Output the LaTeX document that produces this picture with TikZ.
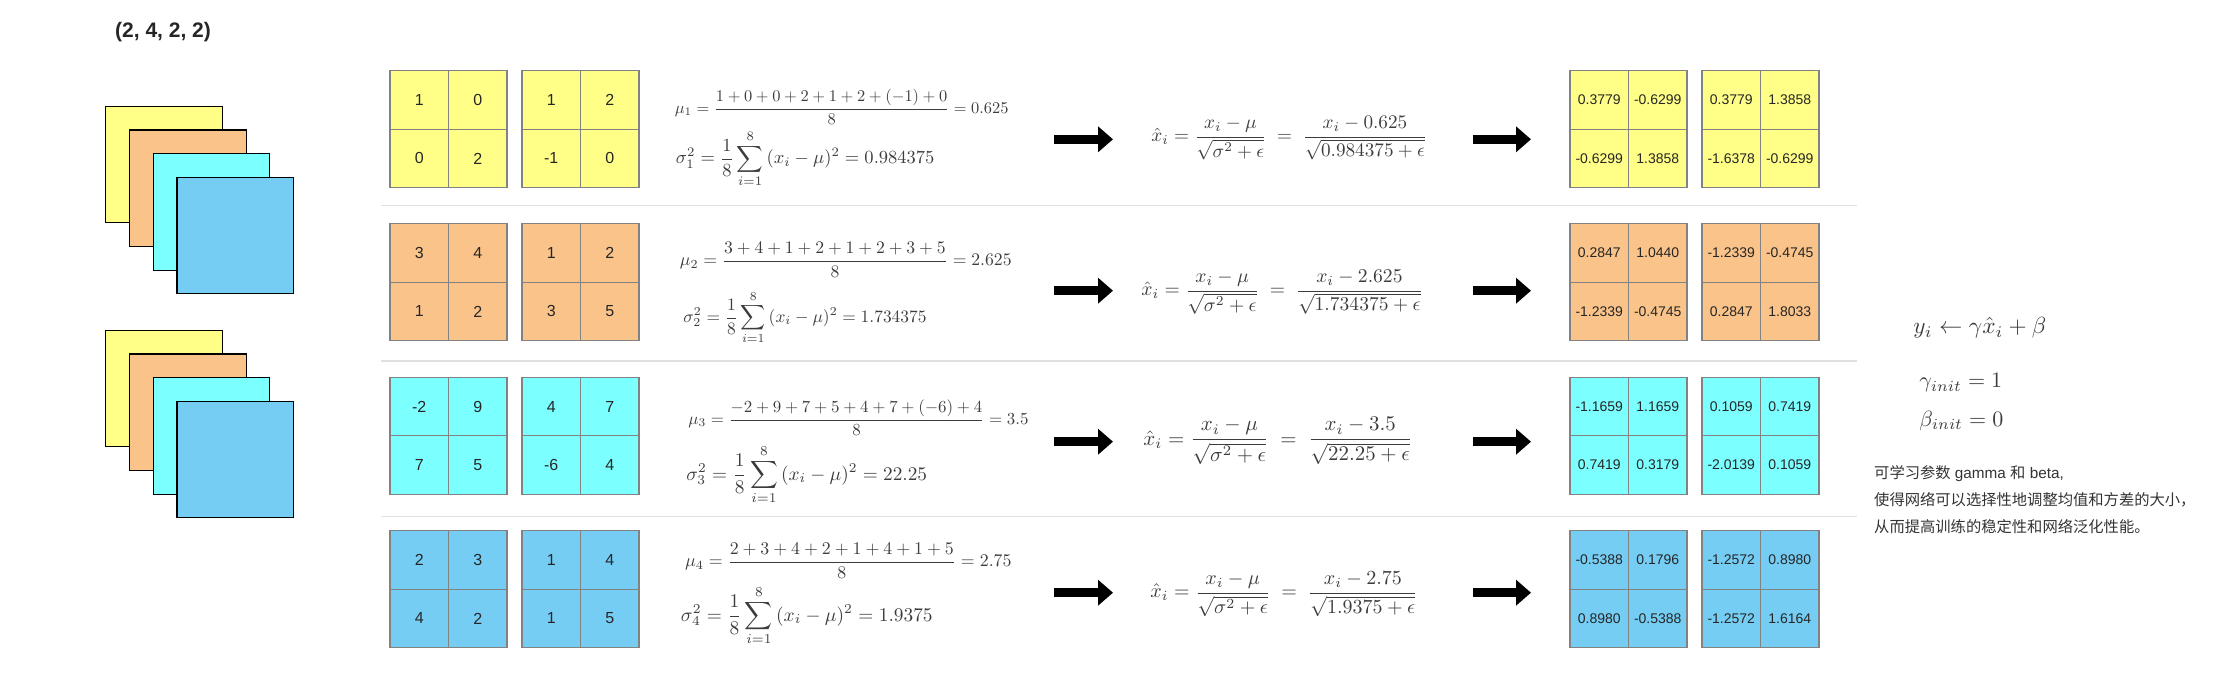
\documentclass[tikz,border=0pt]{standalone}
\usepackage[no-math]{fontspec}
\usepackage{amsmath}
\newfontfamily\arial{Liberation Sans}
\newfontfamily\cjk{Noto Sans CJK SC}
\usetikzlibrary{arrows.meta, positioning}
\definecolor{chanyellow}{RGB}{255, 255, 136}
\definecolor{chanorange}{RGB}{250, 195, 137}
\definecolor{chancyan}{RGB}{124, 255, 255}
\definecolor{chanblue}{RGB}{117, 205, 243}
\definecolor{cellgray}{RGB}{130, 130, 130}
\definecolor{rulegray}{RGB}{224, 224, 224}
\definecolor{mathgray}{RGB}{60, 60, 60}

% one 2x2 block: name, x, y, cell style, colour, four values
\newcommand{\gridblock}[9]{%
    \node[#4=#5, anchor=north west] (#1a) at (#2, #3) {#6};
    \node[#4=#5, right=0pt of #1a] (#1b) {#7};
    \node[#4=#5, below=0pt of #1a] (#1c) {#8};
    \node[#4=#5, right=0pt of #1c] (#1d) {#9};
}

\begin{document}
\begin{tikzpicture}[
    x=1pt, y=-1pt,
    % Node styles
    sheet/.style={
        rectangle,
        draw=black,
        fill=#1,
        line width=1.2pt,
        minimum size=116.5pt,
        inner sep=0pt,
        anchor=north west
    },
    cellin/.style={
        rectangle,
        draw=cellgray,
        fill=#1,
        line width=1.3pt,
        minimum size=58.5pt,
        inner sep=0pt,
        outer sep=0pt,
        text=black!85,
        font=\arial\fontsize{16}{16}\selectfont
    },
    cellout/.style={
        cellin=#1,
        font=\arial\fontsize{14}{14}\selectfont
    },
    mathnote/.style={anchor=west, inner sep=0pt, text=mathgray, scale=#1},
    blockarrow/.style={
        -{Triangle[length=15pt, width=25pt]},
        line width=9.3pt,
        color=black
    },
    rowline/.style={color=rulegray, line width=1.5pt}
]
\useasboundingbox (0, 0) rectangle (2218, 686);

% ============================================
% TITLE AND INPUT STACKS
% ============================================
\node[anchor=west, inner sep=0pt, text=black!85, font=\arial\bfseries\fontsize{21}{21}\selectfont] (shape) at (115, 32) {(2, 4, 2, 2)};

% Stack 1
\node[sheet=chanyellow] (firstyellow) at (105, 105.7) {};
\node[sheet=chanorange] (firstorange) at (129, 129.3) {};
\node[sheet=chancyan] (firstcyan) at (152.7, 153) {};
\node[sheet=chanblue] (firstblue) at (176.3, 176.7) {};

% Stack 2
\node[sheet=chanyellow] (secondyellow) at (105, 329.7) {};
\node[sheet=chanorange] (secondorange) at (129, 353.3) {};
\node[sheet=chancyan] (secondcyan) at (152.7, 377) {};
\node[sheet=chanblue] (secondblue) at (176.3, 400.7) {};

% ============================================
% ROW SEPARATORS
% ============================================
\draw[rowline] (381, 205.5) -- (1857, 205.5);
\draw[rowline] (381, 361) -- (1857, 361);
\draw[rowline] (381, 516.3) -- (1857, 516.3);

% ============================================
% INPUT BLOCKS
% ============================================
\gridblock{inAl}{390}{70.7}{cellin}{chanyellow}{1}{0}{0}{2}
\gridblock{inAr}{522}{70.7}{cellin}{chanyellow}{1}{2}{-1}{0}
\gridblock{inBl}{390}{223.7}{cellin}{chanorange}{3}{4}{1}{2}
\gridblock{inBr}{522}{223.7}{cellin}{chanorange}{1}{2}{3}{5}
\gridblock{inCl}{390}{377.3}{cellin}{chancyan}{-2}{9}{7}{5}
\gridblock{inCr}{522}{377.3}{cellin}{chancyan}{4}{7}{-6}{4}
\gridblock{inDl}{390}{530.7}{cellin}{chanblue}{2}{3}{4}{2}
\gridblock{inDr}{522}{530.7}{cellin}{chanblue}{1}{4}{1}{5}

% ============================================
% MEAN AND VARIANCE
% ============================================
\node[mathnote=1.64] (meanA) at (674.5, 107) {$\displaystyle \mu_1 = \frac{1+0+0+2+1+2+(-1)+0}{8} = 0.625$};
\node[mathnote=1.85] (varA) at (675.5, 159) {$\displaystyle \sigma_1^2 = \frac{1}{8}\sum_{i=1}^{8}\,(x_i-\mu)^2 = 0.984375$};

\node[mathnote=1.765] (meanB) at (679.6, 260) {$\displaystyle \mu_2 = \frac{3+4+1+2+1+2+3+5}{8} = 2.625$};
\node[mathnote=1.74] (varB) at (683, 317.7) {$\displaystyle \sigma_2^2 = \frac{1}{8}\sum_{i=1}^{8}\,(x_i-\mu)^2 = 1.734375$};

\node[mathnote=1.69] (meanC) at (688, 418) {$\displaystyle \mu_3 = \frac{-2+9+7+5+4+7+(-6)+4}{8} = 3.5$};
\node[mathnote=1.93] (varC) at (686, 475) {$\displaystyle \sigma_3^2 = \frac{1}{8}\sum_{i=1}^{8}\,(x_i-\mu)^2 = 22.25$};

\node[mathnote=1.785] (meanD) at (684.7, 561) {$\displaystyle \mu_4 = \frac{2+3+4+2+1+4+1+5}{8} = 2.75$};
\node[mathnote=1.94] (varD) at (680.6, 616) {$\displaystyle \sigma_4^2 = \frac{1}{8}\sum_{i=1}^{8}\,(x_i-\mu)^2 = 1.9375$};

% ============================================
% NORMALISATION
% ============================================
\node[mathnote=1.92] (normA) at (1151, 138) {$\displaystyle \hat{x}_i = \frac{x_i-\mu}{\sqrt{\sigma^2+\epsilon}} \;=\; \frac{x_i-0.625}{\sqrt{0.984375+\epsilon}}$};
\node[mathnote=1.96] (normB) at (1141, 292) {$\displaystyle \hat{x}_i = \frac{x_i-\mu}{\sqrt{\sigma^2+\epsilon}} \;=\; \frac{x_i-2.625}{\sqrt{1.734375+\epsilon}}$};
\node[mathnote=2.09] (normC) at (1143, 441) {$\displaystyle \hat{x}_i = \frac{x_i-\mu}{\sqrt{\sigma^2+\epsilon}} \;=\; \frac{x_i-3.5}{\sqrt{22.25+\epsilon}}$};
\node[mathnote=2.0] (normD) at (1150, 594) {$\displaystyle \hat{x}_i = \frac{x_i-\mu}{\sqrt{\sigma^2+\epsilon}} \;=\; \frac{x_i-2.75}{\sqrt{1.9375+\epsilon}}$};

% ============================================
% ARROWS
% ============================================
\coordinate (leftAa) at (1054, 139.3); \coordinate (leftAb) at (1113, 139.3);
\coordinate (leftBa) at (1054, 290.7); \coordinate (leftBb) at (1113, 290.7);
\coordinate (leftCa) at (1054, 441.7); \coordinate (leftCb) at (1113, 441.7);
\coordinate (leftDa) at (1054, 592.7); \coordinate (leftDb) at (1113, 592.7);
\coordinate (rightAa) at (1473, 139.3); \coordinate (rightAb) at (1531, 139.3);
\coordinate (rightBa) at (1473, 290.7); \coordinate (rightBb) at (1531, 290.7);
\coordinate (rightCa) at (1473, 441.7); \coordinate (rightCb) at (1531, 441.7);
\coordinate (rightDa) at (1473, 592.7); \coordinate (rightDb) at (1531, 592.7);

\draw[blockarrow] (leftAa) -- (leftAb);
\draw[blockarrow] (leftBa) -- (leftBb);
\draw[blockarrow] (leftCa) -- (leftCb);
\draw[blockarrow] (leftDa) -- (leftDb);
\draw[blockarrow] (rightAa) -- (rightAb);
\draw[blockarrow] (rightBa) -- (rightBb);
\draw[blockarrow] (rightCa) -- (rightCb);
\draw[blockarrow] (rightDa) -- (rightDb);

% ============================================
% OUTPUT BLOCKS
% ============================================
\gridblock{outAl}{1570}{70.7}{cellout}{chanyellow}{0.3779}{-0.6299}{-0.6299}{1.3858}
\gridblock{outAr}{1702}{70.7}{cellout}{chanyellow}{0.3779}{1.3858}{-1.6378}{-0.6299}
\gridblock{outBl}{1570}{223.7}{cellout}{chanorange}{0.2847}{1.0440}{-1.2339}{-0.4745}
\gridblock{outBr}{1702}{223.7}{cellout}{chanorange}{-1.2339}{-0.4745}{0.2847}{1.8033}
\gridblock{outCl}{1570}{377.3}{cellout}{chancyan}{-1.1659}{1.1659}{0.7419}{0.3179}
\gridblock{outCr}{1702}{377.3}{cellout}{chancyan}{0.1059}{0.7419}{-2.0139}{0.1059}
\gridblock{outDl}{1570}{530.7}{cellout}{chanblue}{-0.5388}{0.1796}{0.8980}{-0.5388}
\gridblock{outDr}{1702}{530.7}{cellout}{chanblue}{-1.2572}{0.8980}{-1.2572}{1.6164}

% ============================================
% SCALE AND SHIFT NOTE
% ============================================
\node[mathnote=2.33] (update) at (1913, 328) {$y_i \leftarrow \gamma\hat{x}_i + \beta$};
\node[mathnote=2.2] (gammainit) at (1919, 383) {$\gamma_{init} = 1$};
\node[mathnote=2.2] (betainit) at (1919, 421) {$\beta_{init} = 0$};
\node[anchor=west, inner sep=0pt, align=left, text=black!80, font=\arial\fontsize{15.3}{27}\selectfont] (note) at (1874, 500) {%
    {\cjk 可学习参数} gamma {\cjk 和} beta,\\
    {\cjk 使得网络可以选择性地调整均值和方差的大小，}\\
    {\cjk 从而提高训练的稳定性和网络泛化性能。}
};

\end{tikzpicture}
\end{document}
